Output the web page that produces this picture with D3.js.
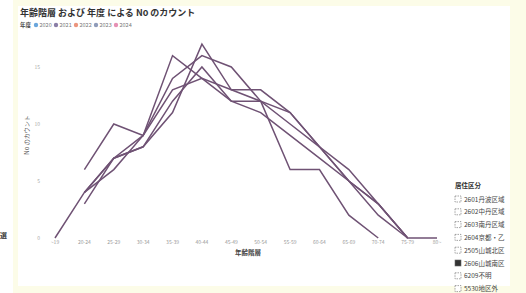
<!DOCTYPE html>
<html>
<head>
<meta charset="utf-8">
<script src="https://cdn.jsdelivr.net/npm/d3@7"></script>
<style>
  body { margin: 0; background: #fff; }
  svg text { font-family: "Noto Sans CJK JP", "Noto Sans", sans-serif; }
</style>
</head>
<body>
<div id="chart"></div>
<script>
// 年齢階層 (x categories)
const ageGroups = ["~19", "20-24", "25-29", "30-34", "35-39", "40-44", "45-49",
                   "50-54", "55-59", "60-64", "65-69", "70-74", "75-79", "80~"];
const years = ["2020", "2021", "2022", "2023", "2024"];
const yearColors = ["#6aa6dc", "#8a7ea6", "#ec957d", "#8f9bb9", "#e690b4"];
// No のカウント per year (null = no point)
const count2020 = [0, 4, 7, 8, 12, 15, 12, 12, 10, 8, 5, 3, 0, 0];
const count2021 = [null, 6, 10, 9, 16, 14, 12, 11, 9, 7, 5, 2, 0, null];
const count2022 = [null, 3, 7, 8, 11, 17, 13, 13, 11, 8, 6, 3, 0, null];
const count2023 = [null, 4, 6, 9, 14, 16, 15, 12, 11, 8, 5, 3, 0, null];
const count2024 = [null, 4, 7, 9, 13, 14, 13, 12, 6, 6, 2, 0, null, null];
const yTicks = [0, 5, 10, 15];
const legendTitle = "居住区分";
const legendItems = ["2601丹波区域", "2602中丹区域", "2603南丹区域", "2604京都・乙",
                     "2505山城北区", "2606山城南区", "6209不明", "5530地区外"];

const W = 526, H = 293;
const svg = d3.select("#chart").append("svg")
    .attr("width", W)
    .attr("height", H);

// background: pale yellow frame + white visual panel
svg.append("rect").attr("x", 13).attr("y", 0).attr("width", W - 13).attr("height", H).attr("fill", "#fcfce8");
svg.append("rect").attr("x", 18).attr("y", 6).attr("width", 492).attr("height", 280).attr("fill", "#fff");

// title
svg.append("text")
    .attr("x", 20).attr("y", 16)
    .attr("font-size", 9).attr("font-weight", "bold").attr("fill", "#333")
    .text("年齢階層 および 年度 による No のカウント");

// year legend
let lg = svg.append("g").attr("transform", "translate(20,25)");
lg.append("text").attr("x", 0).attr("y", 2).attr("font-size", 5.5).attr("font-weight", "bold").attr("fill", "#444").text("年度");
years.forEach(function(y, i) {
    let gx = 16 + i * 20;
    lg.append("circle").attr("cx", gx).attr("cy", 0).attr("r", 2.2).attr("fill", yearColors[i]);
    lg.append("text").attr("x", gx + 3.5).attr("y", 2).attr("font-size", 5.5).attr("fill", "#777").text(y);
});

let x = d3.scalePoint()
    .domain(ageGroups)
    .range([55, 437]);

let y = d3.scaleLinear()
    .domain([0, 15])
    .range([238, 67]);

// y tick labels (no axis line)
svg.append("g").selectAll("text")
    .data(yTicks)
    .enter().append("text")
    .attr("x", 40).attr("y", function(d) { return y(d) + 2; })
    .attr("text-anchor", "end")
    .attr("font-size", 5).attr("fill", "#aaa")
    .text(function(d) { return d; });

svg.append("text")
    .attr("transform", "translate(29,135) rotate(-90)")
    .attr("text-anchor", "middle")
    .attr("font-size", 6).attr("fill", "#555")
    .text("No のカウント");

// x tick labels
svg.append("g").selectAll("text")
    .data(ageGroups)
    .enter().append("text")
    .attr("x", function(d) { return x(d); })
    .attr("y", 244)
    .attr("text-anchor", "middle")
    .attr("font-size", 5).attr("fill", "#999")
    .text(function(d) { return d; });

svg.append("text")
    .attr("x", 248).attr("y", 255)
    .attr("text-anchor", "middle")
    .attr("font-size", 6.5).attr("font-weight", "bold").attr("fill", "#444")
    .text("年齢階層");

// lines
let series = [count2020, count2021, count2022, count2023, count2024];
let line = d3.line()
    .defined(function(d) { return d != null; })
    .x(function(d, i) { return x(ageGroups[i]); })
    .y(function(d) { return y(d); });

svg.append("g").selectAll("path")
    .data(series)
    .enter().append("path")
    .attr("d", line)
    .attr("fill", "none")
    .attr("stroke", "#6f5274")
    .attr("stroke-width", 1.5)
    .attr("stroke-linejoin", "miter");

// clipped slicer label at far left
svg.append("text").attr("x", 0).attr("y", 238).attr("font-size", 7).attr("font-weight", "bold").attr("fill", "#333").text("選");

// right legend
let rl = svg.append("g").attr("transform", "translate(455,188)");
rl.append("text").attr("x", 0).attr("y", 0).attr("font-size", 6.5).attr("font-weight", "bold").attr("fill", "#333").text(legendTitle);
let item = rl.selectAll("g.item")
    .data(legendItems)
    .enter().append("g")
    .attr("class", "item")
    .attr("transform", function(d, i) { return "translate(0," + (13 + i * 12.8) + ")"; });
item.append("rect")
    .attr("x", 0).attr("y", -5).attr("width", 6).attr("height", 6)
    .attr("fill", function(d, i) { return i == 5 ? "#333" : "#fff"; })
    .attr("stroke", "#666").attr("stroke-width", 0.6)
    .attr("stroke-dasharray", function(d, i) { return i == 5 ? null : "1.5,1"; });
item.append("text")
    .attr("x", 9).attr("y", 0.5)
    .attr("font-size", 6.5).attr("fill", "#444")
    .text(function(d) { return d; });
</script>
</body>
</html>
